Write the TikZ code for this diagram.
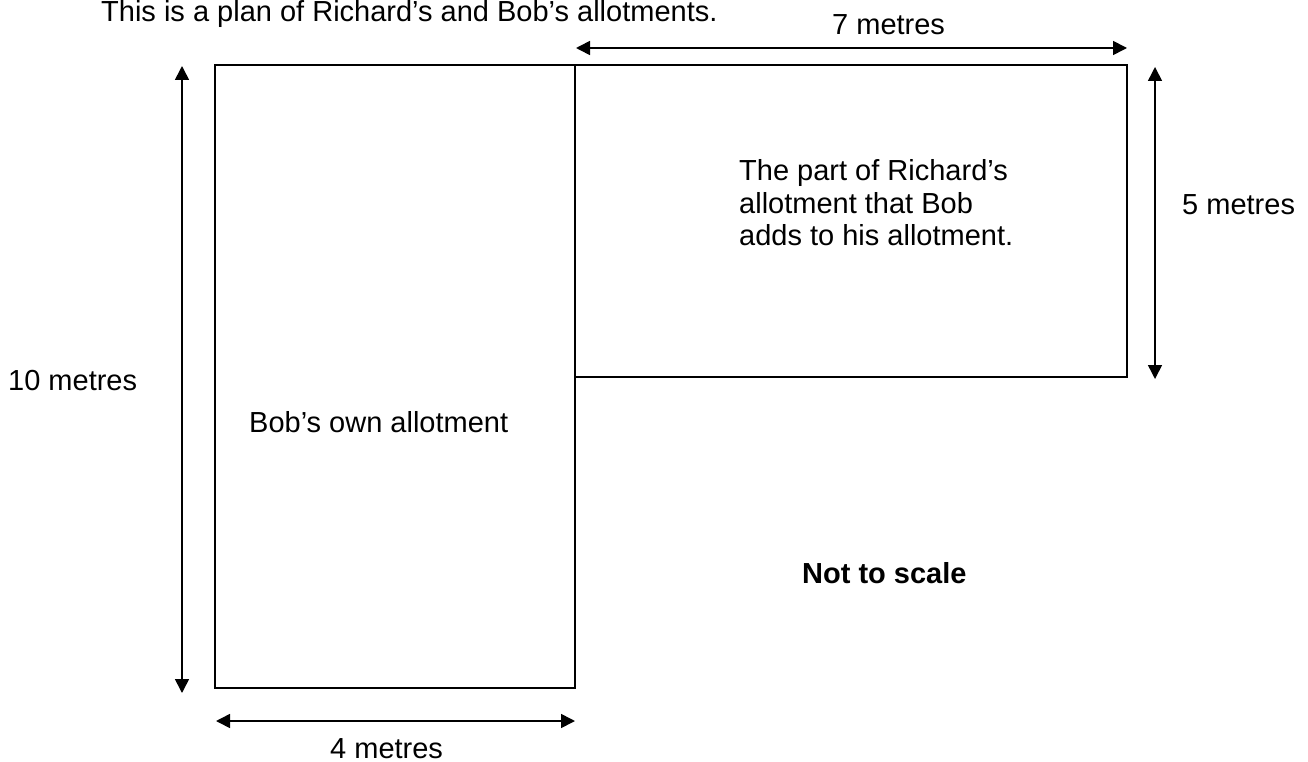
\documentclass[tikz,border=0pt]{standalone}
\usepackage{fontspec}
\setmainfont{Liberation Sans}
\usetikzlibrary{arrows.meta}
\begin{document}
\begin{tikzpicture}[x=1pt,y=-1pt,
  plot/.style={draw=black,line width=1.6pt},
  dim/.style={line width=1.6pt,{Triangle[length=14pt,width=14pt]}-{Triangle[length=14pt,width=14pt]}},
  lbl/.style={inner sep=0pt,anchor=base west,font=\fontsize{29}{32}\selectfont}]
\useasboundingbox (0,0) rectangle (1308,762);
% plots
\draw[plot] (215,65) rectangle (575,688);
\draw[plot] (575,65) rectangle (1127,377);
% dimension end points
\coordinate (lt) at (182,66);   \coordinate (lb) at (182,693);
\coordinate (tl) at (576,48);   \coordinate (tr) at (1127,48);
\coordinate (rt) at (1155,67);  \coordinate (rb) at (1155,379);
\coordinate (bl) at (216,721);  \coordinate (br) at (575,721);
\draw[dim] (lt) -- (lb);
\draw[dim] (tl) -- (tr);
\draw[dim] (rt) -- (rb);
\draw[dim] (bl) -- (br);
% texts
\node[lbl] (title) at (101,22) {This is a plan of Richard’s and Bob’s allotments.};
\node[lbl] (seven) at (832,35) {7 metres};
\node[lbl] (ten) at (8,390) {10 metres};
\node[lbl] (five) at (1182,214) {5 metres};
\node[lbl] (four) at (330,758) {4 metres};
\node[lbl] (part1) at (739,181) {The part of Richard’s};
\node[lbl] (part2) at (739,213) {allotment that Bob};
\node[lbl] (part3) at (739,245) {adds to his allotment.};
\node[lbl] (own) at (249,432) {Bob’s own allotment};
\node[lbl,font=\fontsize{29}{32}\selectfont\bfseries] (scale) at (802,583) {Not to scale};
\end{tikzpicture}
\end{document}
